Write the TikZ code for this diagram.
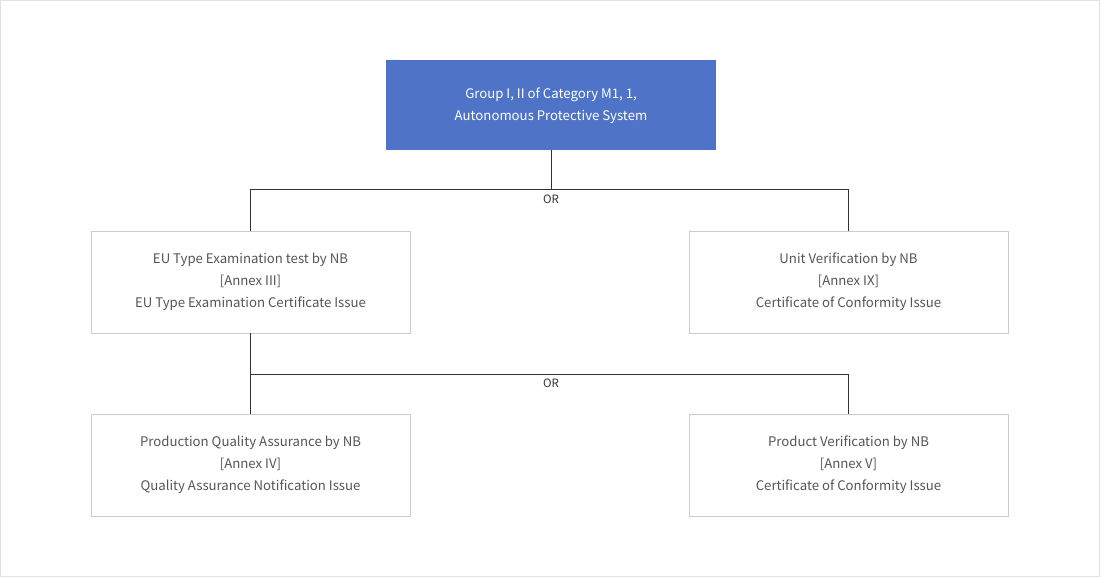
\documentclass[tikz,border=0pt]{standalone}
\usepackage{fontspec}
\setmainfont{Noto Sans CJK KR}
\usepackage{tikz}
\usetikzlibrary{positioning}

\definecolor{headblue}{RGB}{79,115,199}
\definecolor{boxline}{RGB}{204,204,204}
\definecolor{boxtext}{RGB}{85,85,85}
\definecolor{linkline}{RGB}{51,51,51}
\definecolor{frameline}{RGB}{226,226,226}

\tikzset{
  headbox/.style={fill=headblue, text=white, minimum width=330pt, minimum height=90pt,
    inner sep=0pt, align=center, font=\fontsize{13.2}{22}\selectfont},
  stagebox/.style={draw=boxline, line width=0.8pt, text=boxtext, minimum width=319pt,
    minimum height=102pt, inner sep=0pt, align=center, font=\fontsize{13.2}{22}\selectfont},
  link/.style={draw=linkline, line width=0.9pt},
  orlabel/.style={text=linkline, inner sep=0pt, font=\fontsize{11.5}{14}\selectfont}
}

\begin{document}
\begin{tikzpicture}[x=1pt,y=-1pt]
	% Draw frame
	\useasboundingbox (0,0) rectangle (1100,577);
	\draw [frameline, line width=1pt] (0.5,0.5) rectangle (1099.5,576.5);
	% Draw the boxes
	\node [headbox] (group) at (551,105) {\raisebox{-1.5pt}{\begin{tabular}{@{}c@{}}Group I, II of Category M1, 1,\\Autonomous Protective System\end{tabular}}};
	\node [stagebox] (eutype) at (250.5,282) {EU Type Examination test by NB\\{[Annex III]}\\EU Type Examination Certificate Issue};
	\node [stagebox] (unitver) at (848.5,282) {Unit Verification by NB\\{[Annex IX]}\\Certificate of Conformity Issue};
	\node [stagebox] (prodqa) at (250.5,465) {Production Quality Assurance by NB\\{[Annex IV]}\\Quality Assurance Notification Issue};
	\node [stagebox] (prodver) at (848.5,465) {Product Verification by NB\\{[Annex V]}\\Certificate of Conformity Issue};
	% Draw the first OR branch
	\draw [link] (group.south) -- ++(0,40);
	\draw [link] (eutype.north) -- ++(0,-41) -| (unitver.north);
	\node [orlabel] (or_1) at (551,199.5) {OR};
	% Draw the second OR branch
	\draw [link] (eutype.south) -- (prodqa.north);
	\draw [link] (eutype.south) ++(0,41) -| (prodver.north);
	\node [orlabel] (or_2) at (551,383.5) {OR};
\end{tikzpicture}
\end{document}
